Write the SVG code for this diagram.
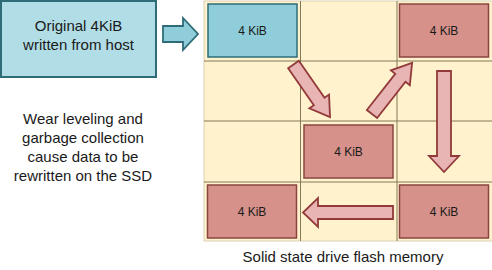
<svg xmlns="http://www.w3.org/2000/svg" width="492" height="270" viewBox="0 0 492 270">
<style>
text{font-family:"Liberation Sans",Arial,sans-serif;fill:#1a1a1a;text-anchor:middle}
.lbl{font-size:15px}
.kib{font-size:12px}
.blue{fill:#8ecdd9;stroke:#2e6d78;stroke-width:1.5}
.red{fill:#d6918a;stroke:#8a4540;stroke-width:1.5}
.arr{fill:#e8b4b4;stroke:#923a3a;stroke-width:1.8;stroke-linejoin:miter}
.gl{stroke:#857a58;stroke-width:1}
</style>
<rect width="492" height="270" fill="#ffffff"/>
<g id="host">
<rect x="1" y="1" width="155" height="76" fill="#b1dde6" stroke="#2e6d78" stroke-width="2"/>
<text class="lbl" x="78.5" y="31">Original 4KiB</text>
<text class="lbl" x="78.5" y="50">written from host</text>
</g>
<g id="note">
<text class="lbl" x="83" y="124">Wear leveling and</text>
<text class="lbl" x="83" y="143">garbage collection</text>
<text class="lbl" x="83" y="162">cause data to be</text>
<text class="lbl" x="83" y="181">rewritten on the SSD</text>
</g>
<g id="grid">
<rect x="204" y="1" width="289" height="240" fill="#fff2cc" stroke="#d9d0b4" stroke-width="1"/>
<line class="gl" x1="300.5" y1="1" x2="300.5" y2="241"/>
<line class="gl" x1="397" y1="1" x2="397" y2="241"/>
<line class="gl" x1="204" y1="61" x2="493" y2="61"/>
<line class="gl" x1="204" y1="121" x2="493" y2="121"/>
<line class="gl" x1="204" y1="182" x2="493" y2="182"/>
<text class="lbl" x="343" y="262">Solid state drive flash memory</text>
</g>
<g id="b1"><rect class="blue" x="208" y="4" width="89" height="53"/><text class="kib" x="252.5" y="35">4 KiB</text></g>
<g id="b2"><rect class="red" x="304" y="125" width="89" height="53"/><text class="kib" x="348.5" y="156">4 KiB</text></g>
<g id="b3"><rect class="red" x="399.5" y="4" width="89" height="53"/><text class="kib" x="444" y="35">4 KiB</text></g>
<g id="b4"><rect class="red" x="399.5" y="185" width="89" height="53"/><text class="kib" x="444" y="216">4 KiB</text></g>
<g id="b5"><rect class="red" x="207.5" y="185" width="89" height="53"/><text class="kib" x="252" y="216">4 KiB</text></g>
<g id="connectors">
<polygon points="0,-8 20,-8 20,-16 35,0 20,16 20,8 0,8" transform="translate(163,34)" fill="#8ecdd9" stroke="#2e6d78" stroke-width="1.8"/>
<polygon class="arr" points="0,-6.5 45,-6.5 45,-12 64,0 45,12 45,6.5 0,6.5" transform="translate(293.5,64.5) rotate(55.2)"/>
<polygon class="arr" points="0,-6.5 46,-6.5 46,-12 65,0 46,12 46,6.5 0,6.5" transform="translate(372,114) rotate(-51.9)"/>
<polygon class="arr" points="0,-7 85,-7 85,-15 101,0 85,15 85,7 0,7" transform="translate(444,71) rotate(90)"/>
<polygon class="arr" points="0,-6.5 75,-6.5 75,-14.5 90,0 75,14.5 75,6.5 0,6.5" transform="translate(393,212.5) rotate(180)"/>
</g>
</svg>
